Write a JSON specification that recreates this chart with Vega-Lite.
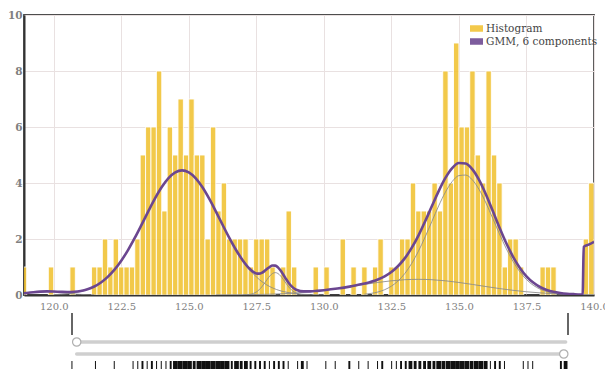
{
  "$schema": "https://vega.github.io/schema/vega-lite/v6.json",
  "width": 570,
  "height": 280,
  "autosize": {"type": "none"},
  "padding": {"left": 24, "top": 15, "right": 11, "bottom": 74},
  "background": "white",
  "config": {
    "font": "DejaVu Serif",
    "view": {"stroke": "#4d4d4d", "strokeWidth": 1.8}
  },
  "datasets": {
    "hist": [
      {"bin_start": 118.8, "bin_end": 119.0, "count": 1},
      {"bin_start": 119.8, "bin_end": 120.0, "count": 1},
      {"bin_start": 120.6, "bin_end": 120.8, "count": 1},
      {"bin_start": 121.4, "bin_end": 121.6, "count": 1},
      {"bin_start": 121.6, "bin_end": 121.8, "count": 1},
      {"bin_start": 121.8, "bin_end": 122.0, "count": 2},
      {"bin_start": 122.0, "bin_end": 122.2, "count": 1},
      {"bin_start": 122.2, "bin_end": 122.4, "count": 2},
      {"bin_start": 122.4, "bin_end": 122.6, "count": 1},
      {"bin_start": 122.6, "bin_end": 122.8, "count": 1},
      {"bin_start": 122.8, "bin_end": 123.0, "count": 1},
      {"bin_start": 123.0, "bin_end": 123.2, "count": 2},
      {"bin_start": 123.2, "bin_end": 123.4, "count": 5},
      {"bin_start": 123.4, "bin_end": 123.6, "count": 6},
      {"bin_start": 123.6, "bin_end": 123.8, "count": 6},
      {"bin_start": 123.8, "bin_end": 124.0, "count": 8},
      {"bin_start": 124.0, "bin_end": 124.2, "count": 3},
      {"bin_start": 124.2, "bin_end": 124.4, "count": 6},
      {"bin_start": 124.4, "bin_end": 124.6, "count": 5},
      {"bin_start": 124.6, "bin_end": 124.8, "count": 7},
      {"bin_start": 124.8, "bin_end": 125.0, "count": 5},
      {"bin_start": 125.0, "bin_end": 125.2, "count": 7},
      {"bin_start": 125.2, "bin_end": 125.4, "count": 5},
      {"bin_start": 125.4, "bin_end": 125.6, "count": 5},
      {"bin_start": 125.6, "bin_end": 125.8, "count": 2},
      {"bin_start": 125.8, "bin_end": 126.0, "count": 6},
      {"bin_start": 126.0, "bin_end": 126.2, "count": 3},
      {"bin_start": 126.2, "bin_end": 126.4, "count": 4},
      {"bin_start": 126.4, "bin_end": 126.6, "count": 2},
      {"bin_start": 126.6, "bin_end": 126.8, "count": 2},
      {"bin_start": 126.8, "bin_end": 127.0, "count": 2},
      {"bin_start": 127.0, "bin_end": 127.2, "count": 2},
      {"bin_start": 127.2, "bin_end": 127.4, "count": 1},
      {"bin_start": 127.4, "bin_end": 127.6, "count": 2},
      {"bin_start": 127.6, "bin_end": 127.8, "count": 2},
      {"bin_start": 127.8, "bin_end": 128.0, "count": 2},
      {"bin_start": 128.0, "bin_end": 128.2, "count": 1},
      {"bin_start": 128.4, "bin_end": 128.6, "count": 1},
      {"bin_start": 128.6, "bin_end": 128.8, "count": 3},
      {"bin_start": 128.8, "bin_end": 129.0, "count": 1},
      {"bin_start": 129.6, "bin_end": 129.8, "count": 1},
      {"bin_start": 130.0, "bin_end": 130.2, "count": 1},
      {"bin_start": 130.6, "bin_end": 130.8, "count": 2},
      {"bin_start": 131.0, "bin_end": 131.2, "count": 1},
      {"bin_start": 131.4, "bin_end": 131.6, "count": 1},
      {"bin_start": 131.8, "bin_end": 132.0, "count": 1},
      {"bin_start": 132.0, "bin_end": 132.2, "count": 2},
      {"bin_start": 132.4, "bin_end": 132.6, "count": 1},
      {"bin_start": 132.6, "bin_end": 132.8, "count": 1},
      {"bin_start": 132.8, "bin_end": 133.0, "count": 2},
      {"bin_start": 133.0, "bin_end": 133.2, "count": 2},
      {"bin_start": 133.2, "bin_end": 133.4, "count": 4},
      {"bin_start": 133.4, "bin_end": 133.6, "count": 3},
      {"bin_start": 133.6, "bin_end": 133.8, "count": 3},
      {"bin_start": 133.8, "bin_end": 134.0, "count": 3},
      {"bin_start": 134.0, "bin_end": 134.2, "count": 4},
      {"bin_start": 134.2, "bin_end": 134.4, "count": 3},
      {"bin_start": 134.4, "bin_end": 134.6, "count": 8},
      {"bin_start": 134.6, "bin_end": 134.8, "count": 4},
      {"bin_start": 134.8, "bin_end": 135.0, "count": 9},
      {"bin_start": 135.0, "bin_end": 135.2, "count": 6},
      {"bin_start": 135.2, "bin_end": 135.4, "count": 6},
      {"bin_start": 135.4, "bin_end": 135.6, "count": 8},
      {"bin_start": 135.6, "bin_end": 135.8, "count": 5},
      {"bin_start": 135.8, "bin_end": 136.0, "count": 4},
      {"bin_start": 136.0, "bin_end": 136.2, "count": 8},
      {"bin_start": 136.2, "bin_end": 136.4, "count": 5},
      {"bin_start": 136.4, "bin_end": 136.6, "count": 4},
      {"bin_start": 136.6, "bin_end": 136.8, "count": 1},
      {"bin_start": 136.8, "bin_end": 137.0, "count": 2},
      {"bin_start": 137.0, "bin_end": 137.2, "count": 2},
      {"bin_start": 137.2, "bin_end": 137.4, "count": 1},
      {"bin_start": 138.0, "bin_end": 138.2, "count": 1},
      {"bin_start": 138.2, "bin_end": 138.4, "count": 1},
      {"bin_start": 138.4, "bin_end": 138.6, "count": 1},
      {"bin_start": 139.6, "bin_end": 139.8, "count": 2},
      {"bin_start": 139.8, "bin_end": 140.0, "count": 4}
    ],
    "gmm": [
      {"x": 118.9, "y": 0.062}, {"x": 119.0, "y": 0.074}, {"x": 119.25, "y": 0.1}, {"x": 119.5, "y": 0.119},
      {"x": 119.75, "y": 0.128}, {"x": 120.0, "y": 0.123}, {"x": 120.25, "y": 0.113}, {"x": 120.5, "y": 0.106},
      {"x": 120.75, "y": 0.114}, {"x": 121.0, "y": 0.144}, {"x": 121.25, "y": 0.205}, {"x": 121.5, "y": 0.304},
      {"x": 121.75, "y": 0.448}, {"x": 122.0, "y": 0.647}, {"x": 122.25, "y": 0.904}, {"x": 122.5, "y": 1.224},
      {"x": 122.75, "y": 1.604}, {"x": 123.0, "y": 2.038}, {"x": 123.25, "y": 2.506}, {"x": 123.5, "y": 2.986},
      {"x": 123.75, "y": 3.448}, {"x": 124.0, "y": 3.855}, {"x": 124.25, "y": 4.175}, {"x": 124.5, "y": 4.38},
      {"x": 124.75, "y": 4.45}, {"x": 125.0, "y": 4.38}, {"x": 125.25, "y": 4.175}, {"x": 125.5, "y": 3.855},
      {"x": 125.75, "y": 3.448}, {"x": 126.0, "y": 2.988}, {"x": 126.25, "y": 2.508}, {"x": 126.5, "y": 2.041},
      {"x": 126.75, "y": 1.608}, {"x": 127.0, "y": 1.235}, {"x": 127.25, "y": 0.936}, {"x": 127.4, "y": 0.815},
      {"x": 127.5, "y": 0.771}, {"x": 127.6, "y": 0.763}, {"x": 127.7, "y": 0.791}, {"x": 127.8, "y": 0.853},
      {"x": 127.9, "y": 0.933}, {"x": 128.0, "y": 1.008}, {"x": 128.1, "y": 1.053}, {"x": 128.2, "y": 1.049},
      {"x": 128.3, "y": 0.986}, {"x": 128.4, "y": 0.872}, {"x": 128.5, "y": 0.724}, {"x": 128.6, "y": 0.569},
      {"x": 128.7, "y": 0.429}, {"x": 128.8, "y": 0.316}, {"x": 128.9, "y": 0.233}, {"x": 129.0, "y": 0.179},
      {"x": 129.25, "y": 0.128}, {"x": 129.5, "y": 0.129}, {"x": 129.75, "y": 0.148}, {"x": 130.0, "y": 0.171},
      {"x": 130.5, "y": 0.23}, {"x": 131.0, "y": 0.309}, {"x": 131.5, "y": 0.407}, {"x": 132.0, "y": 0.555},
      {"x": 132.25, "y": 0.669}, {"x": 132.5, "y": 0.823}, {"x": 132.75, "y": 1.035}, {"x": 133.0, "y": 1.317},
      {"x": 133.25, "y": 1.681}, {"x": 133.5, "y": 2.123}, {"x": 133.75, "y": 2.632}, {"x": 134.0, "y": 3.176},
      {"x": 134.25, "y": 3.712}, {"x": 134.5, "y": 4.182}, {"x": 134.75, "y": 4.532}, {"x": 135.0, "y": 4.712},
      {"x": 135.25, "y": 4.698}, {"x": 135.5, "y": 4.486}, {"x": 135.75, "y": 4.101}, {"x": 136.0, "y": 3.589},
      {"x": 136.25, "y": 3.007}, {"x": 136.5, "y": 2.414}, {"x": 136.75, "y": 1.857}, {"x": 137.0, "y": 1.372},
      {"x": 137.25, "y": 0.976}, {"x": 137.5, "y": 0.667}, {"x": 137.75, "y": 0.443}, {"x": 138.0, "y": 0.286},
      {"x": 138.25, "y": 0.181}, {"x": 138.5, "y": 0.113}, {"x": 138.75, "y": 0.072}, {"x": 139.0, "y": 0.045},
      {"x": 139.25, "y": 0.03}, {"x": 139.5, "y": 0.019}, {"x": 139.58, "y": 0.018}, {"x": 139.62, "y": 1.72},
      {"x": 139.8, "y": 1.8}, {"x": 140.0, "y": 1.9}
    ],
    "components": [
      {"component": "c5", "x": 118.9, "y": 0.062}, {"component": "c5", "x": 119.0, "y": 0.073}, {"component": "c5", "x": 119.25, "y": 0.098},
      {"component": "c5", "x": 119.5, "y": 0.115}, {"component": "c5", "x": 119.75, "y": 0.12}, {"component": "c5", "x": 120.0, "y": 0.109},
      {"component": "c5", "x": 120.25, "y": 0.088}, {"component": "c5", "x": 120.5, "y": 0.062}, {"component": "c5", "x": 120.75, "y": 0.039},
      {"component": "c5", "x": 121.0, "y": 0.021}, {"component": "c5", "x": 121.5, "y": 0.004},
      {"component": "c1", "x": 120.0, "y": 0.014}, {"component": "c1", "x": 120.5, "y": 0.044}, {"component": "c1", "x": 121.0, "y": 0.123},
      {"component": "c1", "x": 121.25, "y": 0.195}, {"component": "c1", "x": 121.5, "y": 0.3}, {"component": "c1", "x": 121.75, "y": 0.448},
      {"component": "c1", "x": 122.0, "y": 0.647}, {"component": "c1", "x": 122.25, "y": 0.904}, {"component": "c1", "x": 122.5, "y": 1.224},
      {"component": "c1", "x": 122.75, "y": 1.604}, {"component": "c1", "x": 123.0, "y": 2.038}, {"component": "c1", "x": 123.25, "y": 2.506},
      {"component": "c1", "x": 123.5, "y": 2.986}, {"component": "c1", "x": 123.75, "y": 3.448}, {"component": "c1", "x": 124.0, "y": 3.855},
      {"component": "c1", "x": 124.25, "y": 4.175}, {"component": "c1", "x": 124.5, "y": 4.38}, {"component": "c1", "x": 124.75, "y": 4.45},
      {"component": "c1", "x": 125.0, "y": 4.38}, {"component": "c1", "x": 125.25, "y": 4.175}, {"component": "c1", "x": 125.5, "y": 3.855},
      {"component": "c1", "x": 125.75, "y": 3.448}, {"component": "c1", "x": 126.0, "y": 2.986}, {"component": "c1", "x": 126.25, "y": 2.506},
      {"component": "c1", "x": 126.5, "y": 2.038}, {"component": "c1", "x": 126.75, "y": 1.604}, {"component": "c1", "x": 127.0, "y": 1.224},
      {"component": "c1", "x": 127.25, "y": 0.904}, {"component": "c1", "x": 127.5, "y": 0.647}, {"component": "c1", "x": 127.75, "y": 0.448},
      {"component": "c1", "x": 128.0, "y": 0.3}, {"component": "c1", "x": 128.25, "y": 0.195}, {"component": "c1", "x": 128.5, "y": 0.123},
      {"component": "c1", "x": 128.75, "y": 0.075}, {"component": "c1", "x": 129.0, "y": 0.044}, {"component": "c1", "x": 129.5, "y": 0.014},
      {"component": "c1", "x": 130.0, "y": 0.004},
      {"component": "c2", "x": 127.0, "y": 0.002}, {"component": "c2", "x": 127.25, "y": 0.02}, {"component": "c2", "x": 127.4, "y": 0.059},
      {"component": "c2", "x": 127.5, "y": 0.108}, {"component": "c2", "x": 127.6, "y": 0.184}, {"component": "c2", "x": 127.7, "y": 0.288},
      {"component": "c2", "x": 127.8, "y": 0.416}, {"component": "c2", "x": 127.9, "y": 0.554}, {"component": "c2", "x": 128.0, "y": 0.68},
      {"component": "c2", "x": 128.1, "y": 0.768}, {"component": "c2", "x": 128.2, "y": 0.8}, {"component": "c2", "x": 128.3, "y": 0.768},
      {"component": "c2", "x": 128.4, "y": 0.68}, {"component": "c2", "x": 128.5, "y": 0.554}, {"component": "c2", "x": 128.6, "y": 0.416},
      {"component": "c2", "x": 128.7, "y": 0.288}, {"component": "c2", "x": 128.8, "y": 0.184}, {"component": "c2", "x": 128.9, "y": 0.108},
      {"component": "c2", "x": 129.0, "y": 0.059}, {"component": "c2", "x": 129.2, "y": 0.014}, {"component": "c2", "x": 129.4, "y": 0.003},
      {"component": "c4", "x": 126.0, "y": 0.002}, {"component": "c4", "x": 127.0, "y": 0.009}, {"component": "c4", "x": 128.0, "y": 0.028},
      {"component": "c4", "x": 128.5, "y": 0.047}, {"component": "c4", "x": 129.0, "y": 0.076}, {"component": "c4", "x": 129.5, "y": 0.115},
      {"component": "c4", "x": 130.0, "y": 0.167}, {"component": "c4", "x": 130.5, "y": 0.23}, {"component": "c4", "x": 131.0, "y": 0.302},
      {"component": "c4", "x": 131.5, "y": 0.377}, {"component": "c4", "x": 132.0, "y": 0.448}, {"component": "c4", "x": 132.5, "y": 0.507},
      {"component": "c4", "x": 133.0, "y": 0.546}, {"component": "c4", "x": 133.5, "y": 0.56}, {"component": "c4", "x": 134.0, "y": 0.546},
      {"component": "c4", "x": 134.5, "y": 0.507}, {"component": "c4", "x": 135.0, "y": 0.448}, {"component": "c4", "x": 135.5, "y": 0.377},
      {"component": "c4", "x": 136.0, "y": 0.302}, {"component": "c4", "x": 136.5, "y": 0.23}, {"component": "c4", "x": 137.0, "y": 0.167},
      {"component": "c4", "x": 137.5, "y": 0.115}, {"component": "c4", "x": 138.0, "y": 0.076}, {"component": "c4", "x": 138.5, "y": 0.047},
      {"component": "c4", "x": 139.0, "y": 0.028}, {"component": "c4", "x": 139.5, "y": 0.016}, {"component": "c4", "x": 140.0, "y": 0.009},
      {"component": "c3", "x": 131.5, "y": 0.03}, {"component": "c3", "x": 132.0, "y": 0.107}, {"component": "c3", "x": 132.25, "y": 0.189},
      {"component": "c3", "x": 132.5, "y": 0.316}, {"component": "c3", "x": 132.75, "y": 0.505}, {"component": "c3", "x": 133.0, "y": 0.771},
      {"component": "c3", "x": 133.25, "y": 1.124}, {"component": "c3", "x": 133.5, "y": 1.563}, {"component": "c3", "x": 133.75, "y": 2.075},
      {"component": "c3", "x": 134.0, "y": 2.63}, {"component": "c3", "x": 134.25, "y": 3.182}, {"component": "c3", "x": 134.5, "y": 3.675},
      {"component": "c3", "x": 134.75, "y": 4.052}, {"component": "c3", "x": 135.0, "y": 4.264}, {"component": "c3", "x": 135.25, "y": 4.284},
      {"component": "c3", "x": 135.5, "y": 4.109}, {"component": "c3", "x": 135.75, "y": 3.761}, {"component": "c3", "x": 136.0, "y": 3.287},
      {"component": "c3", "x": 136.25, "y": 2.742}, {"component": "c3", "x": 136.5, "y": 2.184}, {"component": "c3", "x": 136.75, "y": 1.66},
      {"component": "c3", "x": 137.0, "y": 1.205}, {"component": "c3", "x": 137.25, "y": 0.836}, {"component": "c3", "x": 137.5, "y": 0.552},
      {"component": "c3", "x": 137.75, "y": 0.349}, {"component": "c3", "x": 138.0, "y": 0.21}, {"component": "c3", "x": 138.25, "y": 0.121},
      {"component": "c3", "x": 138.5, "y": 0.066}, {"component": "c3", "x": 138.75, "y": 0.035}, {"component": "c3", "x": 139.0, "y": 0.017},
      {"component": "c3", "x": 139.5, "y": 0.003},
      {"component": "c6", "x": 139.5, "y": 0.0}, {"component": "c6", "x": 139.58, "y": 0.005}, {"component": "c6", "x": 139.62, "y": 1.7},
      {"component": "c6", "x": 139.8, "y": 1.78}, {"component": "c6", "x": 140.0, "y": 1.88}
    ],
    "range": [
      {"limit": "min", "value": 118.9},
      {"limit": "max", "value": 140.0}
    ],
    "slider": [
      {"handle": "min", "lo": 119.1, "hi": 139.9, "value": 119.1},
      {"handle": "max", "lo": 119.1, "hi": 139.9, "value": 139.82}
    ]
  },
  "layer": [
    {
      "layer": [
        {
          "data": {"name": "hist"},
          "mark": {"type": "bar", "clip": true, "opacity": 0.88, "stroke": "white", "strokeWidth": 0.9, "strokeOpacity": 1},
          "encoding": {
            "x": {
              "field": "bin_start", "type": "quantitative", "title": null,
              "scale": {"domain": [118.9, 140.0], "nice": false, "zero": false},
              "axis": {
                "values": [120, 122.5, 125, 127.5, 130, 132.5, 135, 137.5, 140],
                "format": ".1f", "grid": true, "gridColor": "#e9e1e1", "gridWidth": 1,
                "ticks": false, "labelPadding": 6, "labelFontSize": 10, "labelColor": "#808080",
                "labelFont": "DejaVu Serif", "domainColor": "#333333", "domainWidth": 2,
                "labelFlush": false, "labelOverlap": false, "labelBound": false
              }
            },
            "x2": {"field": "bin_end"},
            "y": {
              "field": "count", "type": "quantitative", "title": null,
              "scale": {"domain": [0, 10], "nice": false},
              "axis": {
                "values": [0, 2, 4, 6, 8, 10], "grid": true, "gridColor": "#e9e1e1", "gridWidth": 1,
                "ticks": false, "labelPadding": 2, "labelFontSize": 10.5, "labelColor": "#808080",
                "labelFont": "DejaVu Serif", "labelFontWeight": "bold", "domainColor": "#333333", "domainWidth": 2
              }
            },
            "y2": {"datum": 0},
            "color": {
              "datum": "Histogram",
              "scale": {"domain": ["Histogram", "GMM, 6 components"], "range": ["#f1c232", "#6b4690"]},
              "legend": {
                "orient": "none", "legendX": 446, "legendY": 7, "title": null,
                "symbolType": "M-1,-0.5H1V0.5H-1Z", "symbolSize": 169, "symbolStrokeWidth": 0,
                "labelFont": "DejaVu Serif", "labelFontSize": 10.5, "labelColor": "#444444",
                "labelOffset": 3, "rowPadding": 1, "padding": 0
              }
            }
          }
        },
        {
          "data": {"name": "components"},
          "mark": {"type": "line", "interpolate": "monotone", "strokeWidth": 1, "color": "#8a8a8a", "opacity": 0.85, "clip": true},
          "encoding": {
            "x": {"field": "x", "type": "quantitative", "title": null},
            "y": {"field": "y", "type": "quantitative", "title": null},
            "detail": {"field": "component", "type": "nominal"}
          }
        },
        {
          "data": {"name": "gmm"},
          "mark": {"type": "line", "interpolate": "monotone", "strokeWidth": 2.6, "color": "#6b4690", "clip": true},
          "encoding": {
            "x": {"field": "x", "type": "quantitative", "title": null},
            "y": {"field": "y", "type": "quantitative", "title": null}
          }
        }
      ]
    },
    {
      "layer": [
        {
          "data": {"name": "range"},
          "mark": {"type": "rule", "color": "#333333", "strokeWidth": 1.5},
          "encoding": {
            "x": {"field": "value", "type": "quantitative", "title": null, "axis": null,
                  "scale": {"domain": [118.9, 140.0], "range": [48, 544], "nice": false, "zero": false}},
            "y": {"value": 298},
            "y2": {"value": 320}
          }
        },
        {
          "data": {"name": "slider"},
          "mark": {"type": "rule", "color": "#cfcfcf", "strokeWidth": 3.5, "strokeCap": "round"},
          "encoding": {
            "x": {"field": "lo", "type": "quantitative", "title": null, "axis": null},
            "x2": {"field": "hi"},
            "y": {"field": "handle", "type": "nominal", "title": null, "axis": null,
                  "scale": {"type": "point", "domain": ["min", "max"], "range": [327, 339], "padding": 0}}
          }
        },
        {
          "data": {"name": "slider"},
          "mark": {"type": "circle", "fill": "white", "stroke": "#b0b0b0", "strokeWidth": 1.2, "size": 70, "opacity": 1},
          "encoding": {
            "x": {"field": "value", "type": "quantitative", "title": null, "axis": null},
            "y": {"field": "handle", "type": "nominal", "title": null, "axis": null}
          }
        },
        {
          "data": {"name": "hist"},
          "mark": {"type": "rule", "color": "#111111", "xOffset": 2.3, "strokeCap": "butt"},
          "encoding": {
            "x": {"field": "bin_start", "type": "quantitative", "title": null, "axis": null},
            "y": {"value": 346},
            "y2": {"value": 356},
            "strokeWidth": {"field": "count", "type": "quantitative", "legend": null,
                            "scale": {"domain": [1, 5], "range": [1, 4.7], "clamp": true}}
          }
        }
      ]
    }
  ],
  "resolve": {"scale": {"x": "independent", "y": "independent"}}
}
